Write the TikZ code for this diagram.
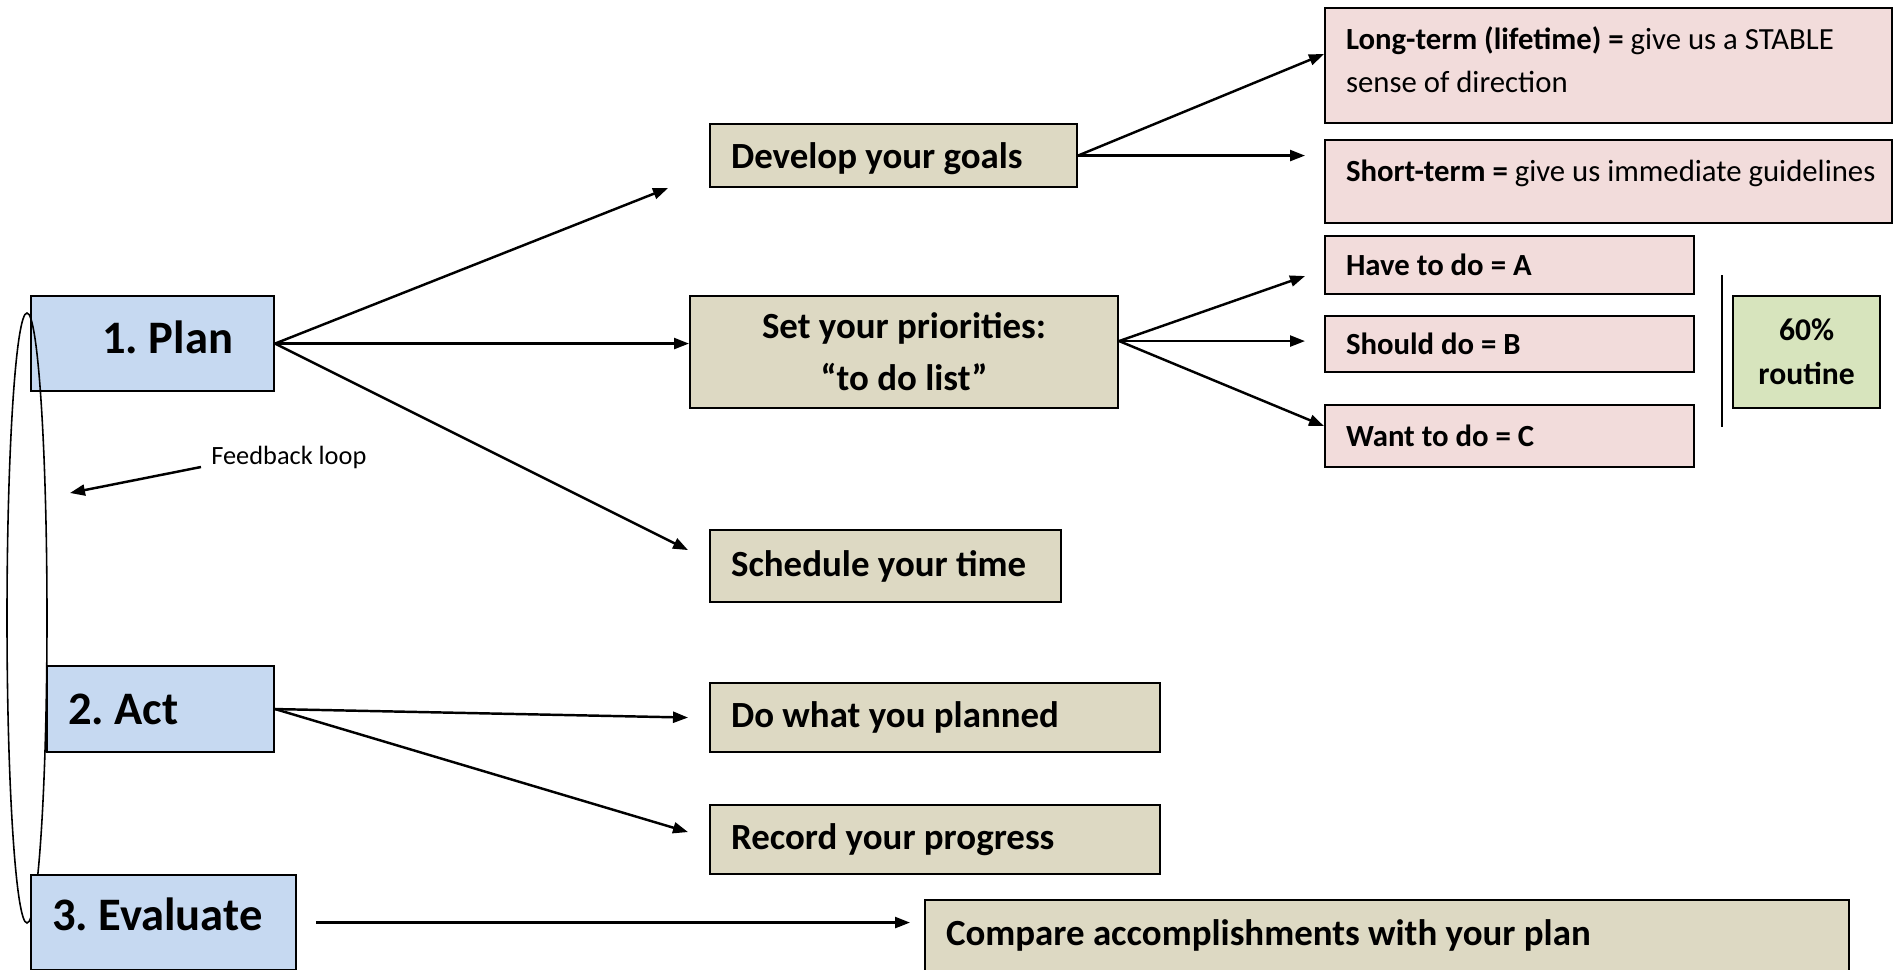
\documentclass[tikz,border=0pt]{standalone}
\usepackage{fontspec}
\setmainfont{Carlito}
\usetikzlibrary{arrows.meta}
\definecolor{phaseblue}{HTML}{C6D9F1}
\definecolor{tasktan}{HTML}{DDD9C3}
\definecolor{detailpink}{HTML}{F2DCDB}
\definecolor{routinegreen}{HTML}{D7E4BD}
\frenchspacing

\begin{document}
\begin{tikzpicture}[x=0.02cm, y=-0.02cm,
    box/.style 2 args={draw, line width=1.2pt, anchor=north west, inner xsep=0.42cm, inner ysep=0pt,
        minimum width=#1*0.02cm, minimum height=#2*0.02cm, text width=#1*0.02cm-0.84cm, align=flush left},
    phase/.style={fill=phaseblue, font=\fontsize{26.5}{32}\selectfont\bfseries},
    task/.style={fill=tasktan, font=\fontsize{21}{29.5}\selectfont\bfseries},
    detail/.style={fill=detailpink, font=\fontsize{17.5}{24.5}\selectfont},
    arr/.style={-{Triangle[length=0.3cm,width=0.22cm]}, line width=1.4pt}]
        \useasboundingbox (0,0) rectangle (1893,970);
        \node[phase, box={243}{95}, align=flush right, text width=3.22cm, text depth=0.24cm] (plan) at (30,295) {1. Plan};
        \draw[line width=0.9pt] (27,618) ellipse [x radius=20, y radius=305];
        \node[phase, box={227}{86}] (act) at (46,665) {2. Act};
        \node[phase, box={265}{95}, text depth=0.34cm] (eval) at (30,874) {\mbox{3. Evaluate}};
        \node[task, box={367}{63}, text depth=0pt] (goals) at (709,123) {Develop your goals};
        \node[task, box={428}{112}, align=flush center] (prio) at (689,295) {Set your priorities:\\“to do list”};
        \node[task, box={351}{72}] (sched) at (709,529) {Schedule your time};
        \node[task, box={450}{69}] (dowhat) at (709,682) {Do what you planned};
        \node[task, box={450}{69}] (record) at (709,804) {Record your progress};
        \node[task, box={924}{71}] (compare) at (924,899) {Compare accomplishments with your plan};
        \node[detail, box={567}{115}, text depth=1.1cm] (long) at (1324,7) {\textbf{Long-term (lifetime) =} give us a STABLE\\sense of direction};
        \node[detail, box={567}{83}, text depth=0.42cm] (short) at (1324,139) {\mbox{\textbf{Short-term =} give us immediate guidelines}};
        \node[detail, box={369}{58}] (have) at (1324,235) {\textbf{Have to do = A}};
        \node[detail, box={369}{56}] (should) at (1324,315) {\textbf{Should do = B}};
        \node[detail, box={369}{62}] (want) at (1324,404) {\textbf{Want to do = C}};
        \node[detail, box={147}{112}, fill=routinegreen, align=flush center,
            font=\fontsize{18}{25}\selectfont\bfseries] (routine) at (1732,295) {60\%\\routine};
        \node[font=\fontsize{15}{18}\selectfont, anchor=west, inner sep=0pt] (fb) at (211,457) {Feedback loop};
        \coordinate (loopin) at (70,493);
        \draw[line width=0.8pt] (1722,275) -- (1722,427);
        \coordinate (prioout) at ([yshift=0.22cm]prio.east);
        \draw[arr] (plan.east) -- ([xshift=-0.82cm]goals.south west);
        \draw[arr] (plan.east) -- (plan.east -| prio.west);
        \draw[arr] (plan.east) -- ([shift={(-0.42cm,0.32cm)}]sched.west);
        \draw[arr] (goals.east) -- ([yshift=0.23cm]long.west);
        \draw[arr] (goals.east) -- ([xshift=-0.38cm]goals.east -| short.west);
        \draw[arr] (prioout) -- ([shift={(-0.38cm,-0.22cm)}]have.west);
        \draw[arr] (prioout) -- ([xshift=-0.38cm]prioout -| should.west);
        \draw[arr] (prioout) -- ([yshift=0.2cm]want.west);
        \draw[arr] (act.east) -- ([xshift=-0.42cm]dowhat.west);
        \draw[arr] (act.east) -- ([shift={(-0.42cm,0.15cm)}]record.west);
        \draw[arr] ([xshift=0.38cm]eval.east) -- ([xshift=-0.28cm]eval.east -| compare.west);
        \draw[arr] ([shift={(-0.2cm,-0.2cm)}]fb.west) -- (loopin);
    \end{tikzpicture}
\end{document}
